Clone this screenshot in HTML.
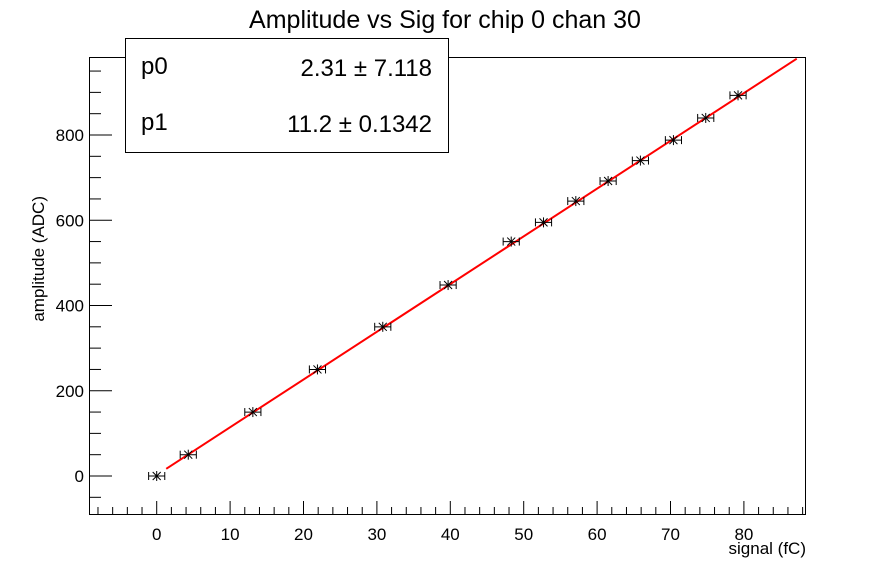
<!DOCTYPE html>
<html><head><meta charset="utf-8"><style>
body{margin:0;background:#fff;}
svg{display:block;font-family:"Liberation Sans",Arial,sans-serif;}
</style></head><body>
<svg id="c" width="896" height="572">
<text x="445" y="28" font-size="25" text-anchor="middle">Amplitude vs Sig for chip 0 chan 30</text>
<rect x="89.5" y="57.5" width="716" height="457" fill="none" stroke="#000"/>
<g id="ax"></g>
<g id="marks"></g>
<text x="806" y="554" font-size="17" text-anchor="end">signal (fC)</text>
<text transform="translate(44,196) rotate(-90)" font-size="17" text-anchor="end">amplitude (ADC)</text>
<g>
<rect x="125.5" y="38.5" width="323" height="114" fill="#fff" stroke="#000"/>
<text x="141" y="74" font-size="24">p0</text>
<text x="432" y="76" font-size="24" text-anchor="end">2.31 ± 7.118</text>
<text x="141" y="130" font-size="24">p1</text>
<text x="432" y="132" font-size="24" text-anchor="end">11.2 ± 0.1342</text>
</g>
</svg>
<script>
const xs=[0,4.3,13.1,21.9,30.8,39.7,48.3,52.7,57.1,61.5,65.9,70.4,74.8,79.2];
const ys=[0,50,150,250,350,448,550,595,645,692,740,788,840,893];
const xErr=[1.1,1.1,1.1,1.1,1.1,1.1,1.1,1.1,1.1,1.1,1.1,1.1,1.1,1.1];
const fitP=[2.31,11.2];
const fitRange=[1.3,87.2];
const xTicks=[0,10,20,30,40,50,60,70,80];
const yTicks=[0,200,400,600,800];
const X=v=>156.7+v*7.34, Y=v=>476-v*0.42625;
const NS="http://www.w3.org/2000/svg";
function mk(t,a,p){const e=document.createElementNS(NS,t);for(const k in a)e.setAttribute(k,a[k]);p.appendChild(e);return e;}
const ax=document.getElementById('ax'), mg=document.getElementById('marks');
for(let v=-8;v<=88;v+=2){const major=v%10===0;
 const t=mk('line',{x1:X(v),x2:X(v),y1:514,y2:major?501:507,stroke:'#000'},ax);
 
 }
xTicks.forEach(v=>{const t=mk('text',{x:X(v),y:540,'font-size':17,'text-anchor':'middle'},ax);t.textContent=v;
 
 });
for(let v=-50;v<=950;v+=50){const major=v%200===0;
 const t=mk('line',{x1:89.5,x2:major?112:101,y1:Y(v),y2:Y(v),stroke:'#000'},ax);
 
 }
yTicks.forEach(v=>{const t=mk('text',{x:84,y:Y(v)+6,'font-size':17,'text-anchor':'end'},ax);t.textContent=v;
 
 });
const fl=mk('line',{x1:X(fitRange[0]),y1:Y(fitP[0]+fitP[1]*fitRange[0]),x2:X(fitRange[1]),y2:Y(fitP[0]+fitP[1]*fitRange[1]),stroke:'#f00','stroke-width':2},mg);


xs.forEach((x,i)=>{const cx=X(x),cy=Y(ys[i]);
 const g=mk('g',{stroke:'#000','stroke-width':1},mg);
 
 
 const l=X(x-xErr[i]),r=X(x+xErr[i]);
 mk('line',{x1:l,x2:r,y1:cy,y2:cy},g);
 mk('line',{x1:l,x2:l,y1:cy-4,y2:cy+4},g);
 mk('line',{x1:r,x2:r,y1:cy-4,y2:cy+4},g);
 mk('line',{x1:cx,x2:cx,y1:cy-5,y2:cy+5},g);
 mk('line',{x1:cx-4,x2:cx+4,y1:cy-4,y2:cy+4},g);
 mk('line',{x1:cx-4,x2:cx+4,y1:cy+4,y2:cy-4},g);
});
</script>
</body></html>
